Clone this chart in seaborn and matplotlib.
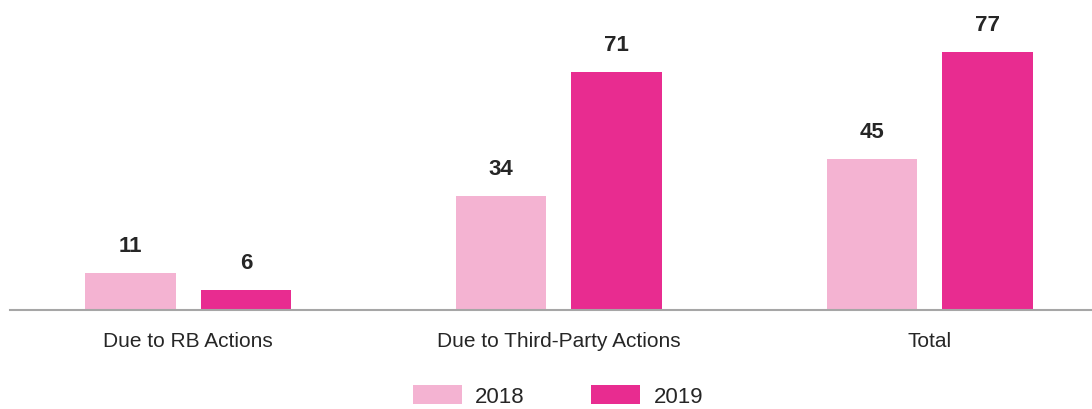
import matplotlib
matplotlib.use("Agg")
import matplotlib.pyplot as plt
import seaborn as sns
import pandas as pd
from matplotlib.patches import Patch

categories = ["Due to RB Actions", "Due to Third-Party Actions", "Total"]
years = ["2018", "2019"]
values_2018 = [11, 34, 45]
values_2019 = [6, 71, 77]
colors = ["#F4B3D2", "#E82C90"]

df = pd.DataFrame({
    "category": categories * 2,
    "year": [years[0]] * 3 + [years[1]] * 3,
    "value": values_2018 + values_2019,
})

sns.set_theme(style="white")
plt.rcParams["font.family"] = ["Liberation Sans", "DejaVu Sans"]

fig = plt.figure(figsize=(10.92, 4.10), dpi=100)
ax = fig.add_axes([10 / 1092, 99 / 410, 1082 / 1092, 311 / 410])

sns.barplot(data=df, x="category", y="value", hue="year", hue_order=years,
            palette=colors, width=0.625, gap=0.216, ax=ax, legend=False,
            saturation=1, edgecolor="none", linewidth=0)

for cont in ax.containers:
    ax.bar_label(cont, padding=12.5, fontsize=16, fontweight="bold", color="#262626")

ax.set_xlim(-0.48, 2.437)
ax.set_ylim(0, 92.8)
ax.set_xlabel("")
ax.set_ylabel("")
ax.set_yticks([])
for s in ["top", "left", "right"]:
    ax.spines[s].set_visible(False)
ax.spines["bottom"].set_color("#A6A6A6")
ax.spines["bottom"].set_linewidth(1.5)
ax.tick_params(axis="x", length=0, pad=15, labelsize=15, labelcolor="#262626")

handles = [Patch(facecolor=c, edgecolor="none") for c in colors]
fig.legend(handles, years, loc="center", bbox_to_anchor=(558 / 1092, 1 - 397 / 410),
           ncol=2, frameon=False, fontsize=16, handlelength=2.2, handleheight=0.95,
           handletextpad=0.6, columnspacing=3.0, labelcolor="#262626")

fig.savefig("out.png", dpi=100)
